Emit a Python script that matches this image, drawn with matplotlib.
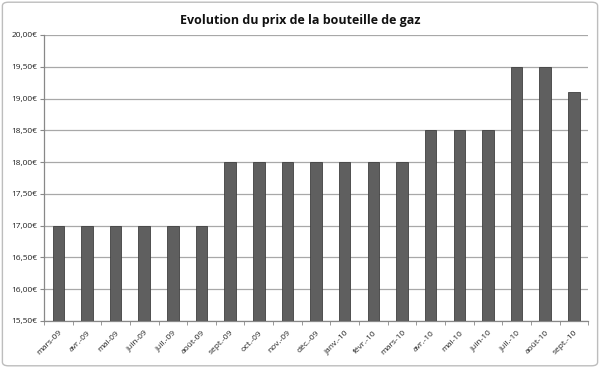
import matplotlib
matplotlib.use("Agg")
import matplotlib.pyplot as plt
from matplotlib.patches import FancyBboxPatch
import numpy as np

months = ["mars-09", "avr.-09", "mai-09", "juin-09", "juil.-09", "août-09", "sept.-09",
          "oct.-09", "nov.-09", "déc.-09", "janv.-10", "févr.-10", "mars-10", "avr.-10",
          "mai-10", "juin-10", "juil.-10", "août-10", "sept.-10"]
prices = [17.00, 17.00, 17.00, 17.00, 17.00, 17.00, 18.00, 18.00, 18.00, 18.00, 18.00,
          18.00, 18.00, 18.50, 18.50, 18.50, 19.50, 19.50, 19.10]
yticks = [15.5, 16.0, 16.5, 17.0, 17.5, 18.0, 18.5, 19.0, 19.5, 20.0]
title = "Evolution du prix de la bouteille de gaz"

plt.rcParams['font.family'] = ['Open Sans', 'DejaVu Sans']

fig = plt.figure(figsize=(6, 3.68), dpi=100)
fig.patch.set_facecolor("white")
border = FancyBboxPatch((0.004, 0.006), 0.992, 0.988, boxstyle="round,pad=0,rounding_size=0.01",
                        transform=fig.transFigure, facecolor="none", edgecolor="#bdbdbd",
                        linewidth=1.0)
fig.patches.append(border)

ax = fig.add_axes([0.0733, 0.128, 0.907, 0.777])
x = np.arange(len(months))
ax.bar(x, prices, width=0.4, color="#5f5f5f", edgecolor="#404040", linewidth=0.6, zorder=3)
ax.set_xlim(-0.5, len(months) - 0.5)
ax.set_ylim(15.5, 20.0)
ax.set_yticks(yticks)
ax.set_yticklabels([f"{v:.2f}€".replace(".", ",") for v in yticks], fontsize=6, color="#222222")
ax.yaxis.grid(True, color="#a8a8a8", linewidth=0.9, zorder=0)
ax.set_xticks(x)
ax.set_xticklabels(months, rotation=45, ha="right", rotation_mode="anchor", fontsize=6, color="#222222")
ax.tick_params(axis="x", length=0, pad=6)
ax.set_xticks(np.arange(-0.5, len(months)), minor=True)
ax.tick_params(axis="x", which="minor", length=3, color="#888888", direction="out")
ax.tick_params(axis="y", length=3, color="#888888", pad=2)
for s in ["top", "right"]:
    ax.spines[s].set_visible(False)
for s in ["left", "bottom"]:
    ax.spines[s].set_color("#888888")
    ax.spines[s].set_linewidth(0.9)

fig.text(0.5, 0.943, title, ha="center", va="center", fontsize=9, fontweight="bold", color="#111111")

fig.savefig("out.png", dpi=100)
